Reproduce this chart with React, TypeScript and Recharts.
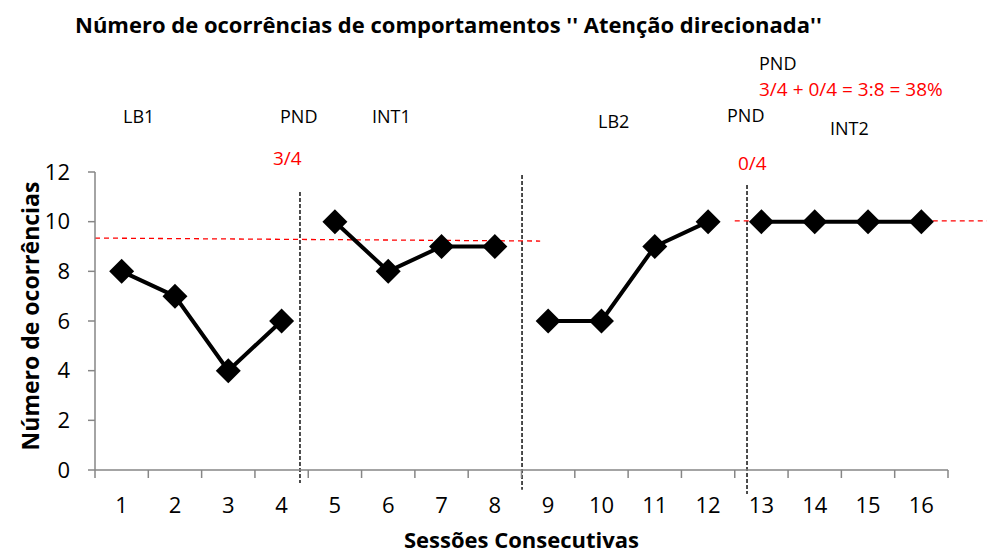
import React from "react";
import { LineChart, Line, XAxis, YAxis, ReferenceLine } from "recharts";

// sessões 1..16, dividido em fases
const sessions = [1, 2, 3, 4, 5, 6, 7, 8, 9, 10, 11, 12, 13, 14, 15, 16];
const lb1 = [8, 7, 4, 6];
const int1 = [10, 8, 9, 9];
const lb2 = [6, 6, 9, 10];
const int2 = [10, 10, 10, 10];
const yTicks = [0, 2, 4, 6, 8, 10, 12];
const boundaryTicks = [0.5, ...sessions.map((s) => s + 0.5)];

const phases = [
  { key: "lb1", values: lb1, start: 0 },
  { key: "int1", values: int1, start: 4 },
  { key: "lb2", values: lb2, start: 8 },
  { key: "int2", values: int2, start: 12 },
];

const data = sessions.map((s, i) => {
  const row: any = { session: s };
  phases.forEach((p) => {
    const j = i - p.start;
    row[p.key] = j >= 0 && j < p.values.length ? p.values[j] : null;
  });
  return row;
});

const FONT = "'Open Sans', sans-serif";
const W = 987;
const H = 554;
const M = { top: 172, right: 39, bottom: 0, left: 0 };
const Y_W = 95;
const BAND = (W - M.right - Y_W) / sessions.length;

const Diamond = (props: any) => {
  const { cx, cy } = props;
  if (cx == null || cy == null || props.value == null) return <g />;
  const r = 12.5;
  return (
    <polygon
      points={`${cx},${cy - r} ${cx + r},${cy} ${cx},${cy + r} ${cx - r},${cy}`}
      fill="#000"
    />
  );
};

// marcas nas fronteiras, rótulo no centro de cada sessão
const SessionTick = (props: any) => {
  const { x, y, index } = props;
  if (index >= sessions.length) return <g />;
  return (
    <text
      x={x + BAND / 2}
      y={y}
      dy="0.71em"
      textAnchor="middle"
      fontSize={22}
      fontFamily={FONT}
      fill="#000"
    >
      {sessions[index]}
    </text>
  );
};

const notes = [
  { text: "LB1", x: 123, y: 123, size: 18, color: "#000" },
  { text: "PND", x: 280, y: 123, size: 18, color: "#000" },
  { text: "INT1", x: 372, y: 123, size: 18, color: "#000" },
  { text: "LB2", x: 598, y: 128, size: 18, color: "#000" },
  { text: "PND", x: 727, y: 122, size: 18, color: "#000" },
  { text: "INT2", x: 830, y: 135, size: 18, color: "#000" },
  { text: "PND", x: 759, y: 70, size: 18, color: "#000" },
  { text: "3/4 + 0/4 = 3:8 = 38%", x: 759, y: 96, size: 19, color: "#ff0000" },
  { text: "3/4", x: 273, y: 165, size: 19, color: "#ff0000" },
  { text: "0/4", x: 738, y: 170, size: 19, color: "#ff0000" },
];

const YTitle = () => (
  <text
    x={30}
    y={316}
    transform="rotate(-90 30 316)"
    textAnchor="middle"
    dominantBaseline="central"
    fontSize={23}
    fontWeight={700}
    fontFamily={FONT}
    fill="#000"
  >
    Número de ocorrências
  </text>
);

const phaseLines = [
  { x: 4.345, top: 11.19, bottom: -0.52 },
  { x: 8.51, top: 11.88, bottom: -0.8 },
  { x: 12.73, top: 11.48, bottom: -0.97 },
];

export default function App() {
  return (
    <div style={{ position: "absolute", left: 0, top: 0, width: W, height: H, background: "#fff", fontFamily: FONT }}>
      <LineChart width={W} height={H} data={data} margin={M}>
        <XAxis
          dataKey="session"
          type="number"
          domain={[0.5, 16.5]}
          ticks={boundaryTicks}
          interval={0}
          tickSize={8}
          tickMargin={19}
          tickLine={{ stroke: "#868686", strokeWidth: 1.5 }}
          axisLine={{ stroke: "#868686", strokeWidth: 1.5 }}
          tick={<SessionTick />}
          height={84}
          label={{
            value: "Sessões Consecutivas",
            position: "insideBottom",
            offset: 6,
            fill: "#000",
            fontSize: 22,
            fontWeight: 700,
            fontFamily: FONT,
          }}
        />
        <YAxis
          type="number"
          domain={[0, 12]}
          ticks={yTicks}
          interval={0}
          width={Y_W}
          tickSize={7}
          tickMargin={18}
          tickLine={{ stroke: "#868686", strokeWidth: 1.5 }}
          axisLine={{ stroke: "#868686", strokeWidth: 1.5 }}
          tick={{ fill: "#000", fontSize: 22, fontFamily: FONT }}
          label={{ content: () => <YTitle /> }}
        />
        {phaseLines.map((l, i) => (
          <ReferenceLine
            key={i}
            segment={[{ x: l.x, y: l.top }, { x: l.x, y: l.bottom }]}
            stroke="#000"
            strokeWidth={1.4}
            strokeDasharray="4 2"
            ifOverflow="visible"
          />
        ))}
        <ReferenceLine
          segment={[{ x: 0.5, y: 9.34 }, { x: 8.85, y: 9.22 }]}
          stroke="#ff0000"
          strokeWidth={1.3}
          strokeDasharray="5 4"
          ifOverflow="visible"
        />
        <ReferenceLine
          segment={[{ x: 12.5, y: 10.03 }, { x: 17.23, y: 10.03 }]}
          stroke="#ff0000"
          strokeWidth={1.3}
          strokeDasharray="5 4"
          ifOverflow="visible"
        />
        {phases.map((p) => (
          <Line
            key={p.key}
            dataKey={p.key}
            stroke="#000"
            strokeWidth={4}
            dot={<Diamond />}
            activeDot={false}
            connectNulls={false}
            isAnimationActive={false}
          />
        ))}
      </LineChart>
      <svg
        width={W}
        height={H}
        style={{ position: "absolute", left: 0, top: 0, pointerEvents: "none" }}
      >
        <text x={75} y={33} fontSize={22} fontWeight={700} fontFamily={FONT} fill="#000">
          Número de ocorrências de comportamentos '' Atenção direcionada''
        </text>
        {notes.map((n, i) => (
          <text key={i} x={n.x} y={n.y} fontSize={n.size} fontFamily={FONT} fill={n.color}>
            {n.text}
          </text>
        ))}
      </svg>
    </div>
  );
}
